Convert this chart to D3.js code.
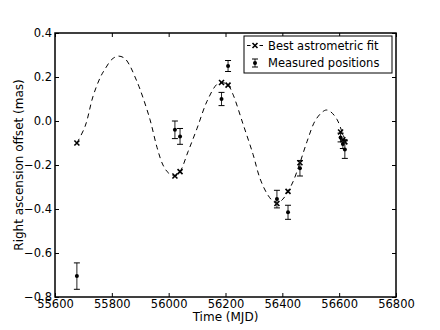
<!DOCTYPE html>
<html>
<head>
<meta charset="utf-8">
<script src="https://cdn.jsdelivr.net/npm/d3@7"></script>
<style>
  body { margin: 0; background: #fff; }
  text { font-family: "DejaVu Sans", sans-serif; fill: #000; }
</style>
</head>
<body>
<div id="chart"></div>
<script>
// dashed model curve
const curveMJD = [55677, 55706, 55734, 55760, 55776, 55800, 55822, 55845, 55864, 55880, 55899, 55934,
  55959, 55980, 56000, 56022, 56040, 56068, 56100, 56135, 56170, 56188, 56209, 56226, 56262, 56297,
  56321, 56346, 56367, 56381, 56402, 56420, 56438, 56462, 56487, 56515, 56540, 56555, 56570, 56592,
  56613, 56625];
const curveRA = [-0.10, -0.024, 0.113, 0.20, 0.236, 0.28, 0.295, 0.285, 0.25, 0.205, 0.145, 0.008,
  -0.12, -0.2, -0.237, -0.25, -0.23, -0.14, -0.033, 0.09, 0.167, 0.175, 0.163, 0.122, -0.015, -0.152,
  -0.26, -0.33, -0.365, -0.375, -0.355, -0.32, -0.275, -0.19, -0.093, 0.0, 0.04, 0.05, 0.042, 0.008,
  -0.06, -0.10];

// epochs
const epochMJD = [55677, 56022, 56040, 56186, 56209, 56381, 56420, 56462, 56605, 56613, 56620];
const fitRA = [-0.10, -0.25, -0.23, 0.175, 0.163, -0.375, -0.32, -0.19, -0.05, -0.085, -0.095];
const obsRA = [-0.705, -0.04, -0.07, 0.10, 0.25, -0.355, -0.415, -0.215, -0.075, -0.105, -0.13];
const obsErr = [0.06, 0.04, 0.036, 0.03, 0.025, 0.04, 0.032, 0.035, 0.02, 0.02, 0.04];

const xTicks = [55600, 55800, 56000, 56200, 56400, 56600, 56800];
const yTicks = [0.4, 0.2, 0.0, -0.2, -0.4, -0.6, -0.8];
const legendLabels = ["Best astrometric fit", "Measured positions"];

const W = 440, H = 330;
const m = { left: 55, right: 44, top: 33, bottom: 33 };

const svg = d3.select('#chart').append('svg')
  .attr('width', W).attr('height', H);

const x = d3.scaleLinear().domain([55600, 56800]).range([m.left, W - m.right]);
const y = d3.scaleLinear().domain([-0.8, 0.4]).range([H - m.bottom, m.top]);

const fmt = d3.format('.1f');

// axes with inward ticks on every side
svg.append('g').attr('transform', `translate(0,${H - m.bottom})`)
  .call(d3.axisBottom(x).tickValues(xTicks).tickFormat(d3.format('d')).tickSizeInner(-4).tickSizeOuter(0).tickPadding(3))
  .call(g => g.select('.domain').remove())
  .selectAll('text').style('font-size', '11.5px');
svg.append('g').attr('transform', `translate(0,${m.top})`)
  .call(d3.axisTop(x).tickValues(xTicks).tickFormat('').tickSizeInner(-4).tickSizeOuter(0))
  .call(g => g.select('.domain').remove());
svg.append('g').attr('transform', `translate(${m.left},0)`)
  .call(d3.axisLeft(y).tickValues(yTicks).tickFormat(fmt).tickSizeInner(-4).tickSizeOuter(0).tickPadding(3))
  .call(g => g.select('.domain').remove())
  .selectAll('text').style('font-size', '11.5px');
svg.append('g').attr('transform', `translate(${W - m.right},0)`)
  .call(d3.axisRight(y).tickValues(yTicks).tickFormat('').tickSizeInner(-4).tickSizeOuter(0))
  .call(g => g.select('.domain').remove());

svg.append('rect')
  .attr('x', m.left).attr('y', m.top)
  .attr('width', W - m.left - m.right).attr('height', H - m.top - m.bottom)
  .attr('fill', 'none').attr('stroke', '#000').attr('stroke-width', 1.5);

// model curve
const line = d3.line()
  .x(i => x(curveMJD[i]))
  .y(i => y(curveRA[i]))
  .curve(d3.curveCatmullRom);
svg.append('path')
  .attr('d', line(d3.range(curveMJD.length)))
  .attr('fill', 'none').attr('stroke', '#000').attr('stroke-width', 1)
  .attr('stroke-dasharray', '5,4');

const cross = (g, cx, cy, s) => {
  g.append('path')
    .attr('d', `M${cx - s},${cy - s}L${cx + s},${cy + s}M${cx - s},${cy + s}L${cx + s},${cy - s}`)
    .attr('stroke', '#000').attr('stroke-width', 1.6);
};
const errbar = (g, cx, cy, top, bot) => {
  g.append('line').attr('x1', cx).attr('x2', cx).attr('y1', top).attr('y2', bot)
    .attr('stroke', '#222').attr('stroke-width', 1);
  [top, bot].forEach(v => g.append('line')
    .attr('x1', cx - 3).attr('x2', cx + 3).attr('y1', v).attr('y2', v)
    .attr('stroke', '#000').attr('stroke-width', 1));
  g.append('circle').attr('cx', cx).attr('cy', cy).attr('r', 2).attr('fill', '#000');
};

// fit positions
const fitG = svg.append('g');
epochMJD.forEach((d, i) => cross(fitG, x(d), y(fitRA[i]), 2.5));

// measured positions
const obsG = svg.append('g');
epochMJD.forEach((d, i) =>
  errbar(obsG, x(d), y(obsRA[i]), y(obsRA[i] + obsErr[i]), y(obsRA[i] - obsErr[i])));

// legend
const lg = svg.append('g');
lg.append('rect').attr('x', 244).attr('y', 36).attr('width', 148).attr('height', 37)
  .attr('fill', '#fff').attr('stroke', '#000').attr('stroke-width', 1);
[[247, 250.5], [259.5, 263]].forEach(([a, b]) => lg.append('line')
  .attr('x1', a).attr('x2', b).attr('y1', 45.5).attr('y2', 45.5)
  .attr('stroke', '#000').attr('stroke-width', 1));
cross(lg, 255, 45.5, 2.5);
errbar(lg, 255, 63, 59, 67);
legendLabels.forEach((t, i) => lg.append('text')
  .attr('x', 268).attr('y', 45.5 + i * 17.5).attr('dy', '0.35em')
  .style('font-size', '11.5px').text(t));

// axis labels
svg.append('text')
  .attr('x', (m.left + W - m.right) / 2).attr('y', 321)
  .attr('text-anchor', 'middle').style('font-size', '12px').text('Time (MJD)');
svg.append('text')
  .attr('transform', `translate(23,${(m.top + H - m.bottom) / 2}) rotate(-90)`)
  .attr('text-anchor', 'middle').style('font-size', '12px').text('Right ascension offset (mas)');
</script>
</body>
</html>
